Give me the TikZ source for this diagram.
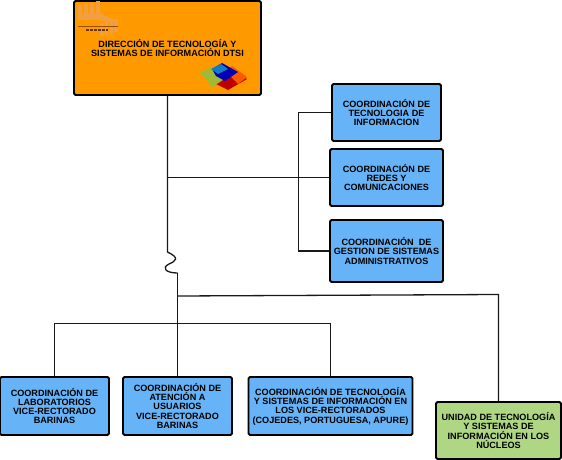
\documentclass[tikz,border=0pt]{standalone}
\usepackage{fontspec}
\setmainfont{Liberation Sans}
\definecolor{dtsiorange}{HTML}{FF9900}
\definecolor{cellblue}{HTML}{66B3F7}
\definecolor{cellgreen}{HTML}{AFD682}
\definecolor{stripeorange}{HTML}{F0A040}
\tikzset{
  boxbase/.style={draw=black,line width=1.8pt,rounded corners=1.5pt,inner sep=0pt,align=center,
    font=\bfseries\fontsize{9.1}{9.3}\selectfont},
  bluebox/.style={boxbase,fill=cellblue},
  link/.style={draw=black!90,line width=1.3pt}
}
\begin{document}
\begin{tikzpicture}[x=1pt,y=-1pt]
  \useasboundingbox (0,0) rectangle (562,460);

  % boxes, centre at pixel position of the reference
  \node[boxbase,fill=dtsiorange,minimum width=187pt,minimum height=94pt] (dir) at (167.5,48)
    {DIRECCIÓN DE TECNOLOGÍA Y\\SISTEMAS DE INFORMACIÓN DTSI};
  \node[bluebox,minimum width=109pt,minimum height=57pt] (tecn) at (386.5,112.5)
    {COORDINACIÓN DE\\TECNOLOGIA DE\\ INFORMACION};
  \node[bluebox,minimum width=113pt,minimum height=57pt] (redes) at (386.5,177.5)
    {COORDINACIÓN DE\\REDES Y\\ COMUNICACIONES};
  \node[bluebox,minimum width=113pt,minimum height=62pt] (gest) at (386.5,251)
    {COORDINACIÓN\ \ DE\\GESTION DE SISTEMAS\\ADMINISTRATIVOS};
  \node[bluebox,minimum width=109pt,minimum height=58pt] (lab) at (54.5,406)
    {COORDINACIÓN DE\\LABORATORIOS\\VICE-RECTORADO\\BARINAS};
  \node[bluebox,minimum width=109pt,minimum height=58pt] (aten) at (177.5,406)
    {COORDINACIÓN DE\\ATENCIÓN A\\USUARIOS\\VICE-RECTORADO\\BARINAS};
  \node[bluebox,minimum width=164pt,minimum height=58pt] (vice) at (330.5,406)
    {COORDINACIÓN DE TECNOLOGÍA\\Y SISTEMAS DE INFORMACIÓN EN\\LOS VICE-RECTORADOS\\(COJEDES, PORTUGUESA, APURE)};
  \node[boxbase,fill=cellgreen,minimum width=125pt,minimum height=57pt] (unid) at (498.5,430.5)
    {UNIDAD DE TECNOLOGÍA\\Y SISTEMAS DE\\INFORMACIÓN EN LOS\\NÚCLEOS};

  % logo stripes, upper left
  \foreach \sx in {0,6,12,18} {
    \fill[stripeorange] (78+\sx,17-\sx*0.2) rectangle ++(3.5,-12);
    \fill[stripeorange] (100+\sx*0.8,36-\sx*0.2) rectangle ++(3.5,-13);
  }
  \fill[stripeorange] (78,15) -- (100,13) -- (116,21) -- (116,24) -- (100,20) -- (78,20) -- cycle;
  \draw[black!40!orange,line width=0.5pt] (78,26.5) -- (118,26.5);
  \draw[black!60!orange,line width=1.5pt,dash pattern=on 3pt off 1pt] (86,30) -- (108,30);

  % logo blocks, lower right
  \fill[red!75!black] (221,80) -- (236,72) -- (247,79) -- (228,90) -- (216,84) -- cycle;
  \fill[orange!70!red] (232,66) -- (247,77) -- (238,84) -- (226,72) -- cycle;
  \fill[yellow!70!green!80!black] (200,72) -- (216,66) -- (226,78) -- (212,87) -- cycle;
  \fill[blue!70!black] (212,69) -- (222,63) -- (238,72) -- (225,81) -- (216,76) -- cycle;
  \fill[cyan!60!blue] (211,69) -- (221,64) -- (228,69) -- (218,74) -- cycle;

  % connectors
  \coordinate (wigtop) at (dir.south |- 0,252);
  \coordinate (wigend) at (aten.north |- 0,273);
  \coordinate (hubA) at (aten.north |- 0,296);
  \coordinate (hubB) at (aten.north |- 0,323.5);
  \coordinate (hubC) at (unid.north |- 0,294.5);
  \coordinate (railtop) at (298.5,112.5);
  \draw[link] (dir.south) -- (wigtop)
    .. controls (180,258) and (176,261) .. (169,264)
    .. controls (161,268) and (166,273) .. (wigend);
  \draw[link,line width=1.8pt] (wigend) -- (aten.north);
  \draw[link] (redes.west) -- (redes.west -| dir.south);
  \draw[link] (tecn.west) -- (railtop) |- (gest.west);
  \draw[link] (hubA) -- (hubC) -- (unid.north);
  \draw[link] (lab.north) |- (hubB) -| (vice.north);
\end{tikzpicture}
\end{document}
